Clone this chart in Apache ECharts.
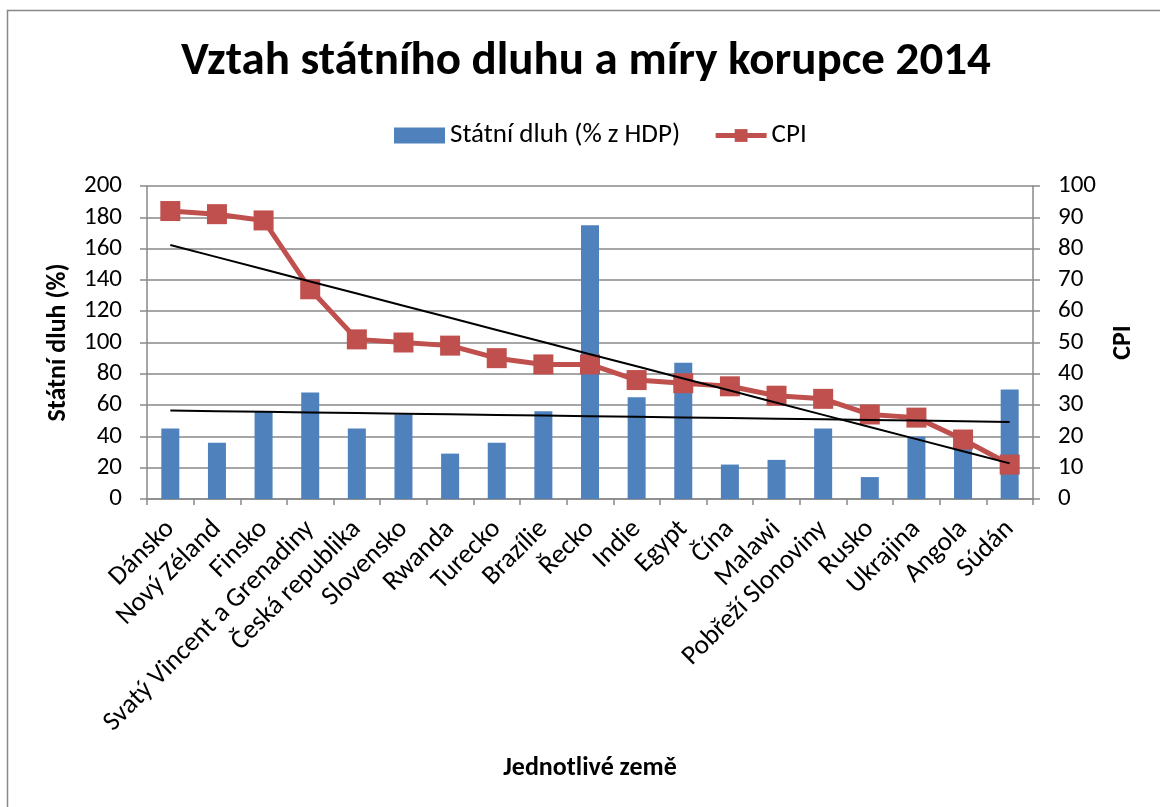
<!DOCTYPE html>
<html>
<head>
<meta charset="utf-8">
<script src="https://cdn.jsdelivr.net/npm/echarts@6/dist/echarts.min.js"></script>
<style>html,body{margin:0;padding:0;background:#fff}#c{width:1160px;height:807px}</style>
</head>
<body>
<div id="c"></div>
<script>
const categories = ['Dánsko','Nový Zéland','Finsko','Svatý Vincent a Grenadiny','Česká republika','Slovensko','Rwanda','Turecko','Brazílie','Řecko','Indie','Egypt','Čína','Malawi','Pobřeží Slonoviny','Rusko','Ukrajina','Angola','Súdán'];
const debt = [45,36,56,68,45,54,29,36,56,175,65,87,22,25,45,14,40,37,70];
const cpi = [92,91,89,67,51,50,49,45,43,43,38,37,36,33,32,27,26,19,11];
const leftTicks = [0,20,40,60,80,100,120,140,160,180,200];
const rightTicks = [0,10,20,30,40,50,60,70,80,90,100];

function linTrend(vals){
  const n = vals.length;
  let sx=0, sy=0, sxx=0, sxy=0;
  vals.forEach((v,i)=>{sx+=i;sy+=v;sxx+=i*i;sxy+=i*v;});
  const b = (n*sxy - sx*sy)/(n*sxx - sx*sx);
  const a = (sy - b*sx)/n;
  return vals.map((_,i)=>a+b*i);
}
const debtTrend = linTrend(debt);
const cpiTrend = linTrend(cpi);

const FONT = 'Carlito, Lato, "Open Sans", sans-serif';
const GRID = '#898989';

const chart = echarts.init(document.getElementById('c'));
chart.setOption({
  animation: false,
  backgroundColor: '#fff',
  textStyle: {fontFamily: FONT, color: '#000'},
  title: {
    text: 'Vztah státního dluhu a míry korupce 2014',
    left: 176, top: 34,
    textStyle: {fontFamily: FONT, fontSize: 47, fontWeight: 'bold', color: '#000'}
  },
  legend: {
    top: 117, left: 389,
    itemWidth: 51, itemHeight: 16, itemGap: 33,
    textStyle: {fontFamily: FONT, fontSize: 27, color: '#000'},
    data: [
      {name: 'Státní dluh (% z HDP)', icon: 'rect'},
      {name: 'CPI', lineStyle: {width: 5, color: '#C0504D'}, itemStyle: {color: '#C0504D'}}
    ]
  },
  grid: {left: 147, right: 127, top: 186, bottom: 308, containLabel: false},
  xAxis: {
    type: 'category', data: categories, boundaryGap: true,
    name: 'Jednotlivé země', nameLocation: 'middle', nameGap: 256,
    nameTextStyle: {fontFamily: FONT, fontSize: 26, fontWeight: 'bold', color: '#000'},
    axisLine: {lineStyle: {color: GRID, width: 1.5}},
    axisTick: {show: true, alignWithLabel: false, length: 6, lineStyle: {color: GRID, width: 1.5}},
    axisLabel: {rotate: 45, interval: 0, fontFamily: FONT, fontSize: 27, color: '#000', margin: 26}
  },
  yAxis: [
    {
      type: 'value', min: 0, max: 200, interval: 20, position: 'left',
      name: 'Státní dluh (%)', nameLocation: 'middle', nameGap: 76, nameRotate: 90,
      nameTextStyle: {fontFamily: FONT, fontSize: 26, fontWeight: 'bold', color: '#000'},
      axisLine: {show: true, lineStyle: {color: GRID, width: 1.5}},
      axisTick: {show: true, length: 7, lineStyle: {color: GRID, width: 1.5}},
      axisLabel: {fontFamily: FONT, fontSize: 25, color: '#000', margin: 25,
        formatter: v => leftTicks.includes(v) ? String(v) : ''},
      splitLine: {show: true, lineStyle: {color: GRID, width: 1.5}}
    },
    {
      type: 'value', min: 0, max: 100, interval: 10, position: 'right',
      name: 'CPI', nameLocation: 'middle', nameGap: 77, nameRotate: 90,
      nameTextStyle: {fontFamily: FONT, fontSize: 26, fontWeight: 'bold', color: '#000'},
      axisLine: {show: true, lineStyle: {color: GRID, width: 1.5}},
      axisTick: {show: true, length: 7, lineStyle: {color: GRID, width: 1.5}},
      axisLabel: {fontFamily: FONT, fontSize: 25, color: '#000', margin: 25,
        formatter: v => rightTicks.includes(v) ? String(v) : ''},
      splitLine: {show: false}
    }
  ],
  series: [
    {
      name: 'Státní dluh (% z HDP)', type: 'bar', data: debt, yAxisIndex: 0,
      barWidth: 18, itemStyle: {color: '#4F81BD'}, z: 2
    },
    {
      name: 'CPI', type: 'line', data: cpi, yAxisIndex: 1,
      symbol: 'rect', symbolSize: 20, showAllSymbol: true,
      lineStyle: {color: '#C0504D', width: 5},
      itemStyle: {color: '#C0504D'}, z: 3
    },
    {
      name: 'trend dluh', type: 'line', data: debtTrend, yAxisIndex: 0,
      symbol: 'none', lineStyle: {color: '#000', width: 2}, z: 5, silent: true
    },
    {
      name: 'trend CPI', type: 'line', data: cpiTrend, yAxisIndex: 1,
      symbol: 'none', lineStyle: {color: '#000', width: 2}, z: 5, silent: true
    }
  ],
  graphic: [{
    type: 'polyline', silent: true,
    shape: {points: [[7.5, 820], [7.5, 10.5], [1170, 10.5]]},
    style: {stroke: '#888', lineWidth: 1.5, fill: null}
  }]
});
</script>
</body>
</html>
